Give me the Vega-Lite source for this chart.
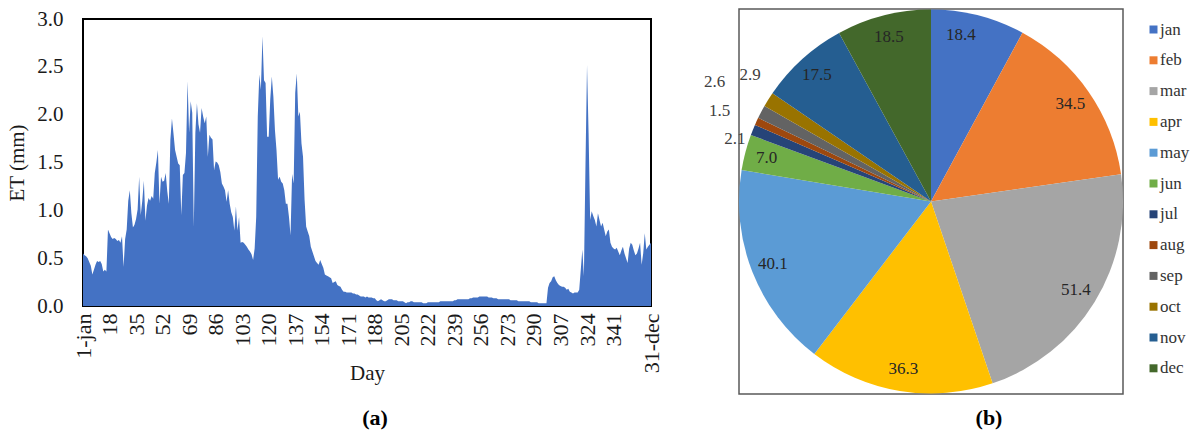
{
  "$schema": "https://vega.github.io/schema/vega-lite/v6.json",
  "background": "white",
  "padding": {"left": 5, "top": 7, "right": 0, "bottom": 0},
  "spacing": 40,
  "config": {
    "font": "Liberation Serif",
    "axis": {"grid": false, "ticks": false, "domain": false, "labelFont": "Liberation Serif", "titleFont": "Liberation Serif", "labelColor": "#1a1a1a", "titleColor": "#1a1a1a", "titleFontWeight": "normal"},
    "legend": {"labelFont": "Liberation Serif", "labelColor": "#333333"},
    "title": {"font": "Liberation Serif", "color": "#000000"}
  },
  "hconcat": [
    {
      "spacing": -3,
      "vconcat": [
        {
          "width": 568,
          "height": 1,
          "view": {"stroke": null},
          "data": {"values": []},
          "mark": "point"
        },
        {
          "width": 568,
          "height": 287,
          "view": {"stroke": "#000000", "strokeWidth": 2},
          "title": {"text": "(a)", "orient": "bottom", "fontSize": 22, "fontWeight": "bold", "offset": 25, "dx": 8},
          "data": {"values": [
            {"day":1,"et":0.55},{"day":2,"et":0.53},{"day":3,"et":0.52},{"day":4,"et":0.50},{"day":5,"et":0.46},{"day":6,"et":0.42},{"day":7,"et":0.33},{"day":8,"et":0.38},{"day":9,"et":0.43},{"day":10,"et":0.47},
            {"day":11,"et":0.46},{"day":12,"et":0.47},{"day":13,"et":0.44},{"day":14,"et":0.36},{"day":15,"et":0.38},{"day":16,"et":0.36},{"day":17,"et":0.80},{"day":18,"et":0.76},{"day":19,"et":0.72},{"day":20,"et":0.70},
            {"day":21,"et":0.71},{"day":22,"et":0.70},{"day":23,"et":0.68},{"day":24,"et":0.69},{"day":25,"et":0.66},{"day":26,"et":0.73},{"day":27,"et":0.41},{"day":28,"et":0.70},{"day":29,"et":0.80},{"day":30,"et":1.10},
            {"day":31,"et":1.21},{"day":32,"et":0.97},{"day":33,"et":0.82},{"day":34,"et":0.85},{"day":35,"et":0.91},{"day":36,"et":1.01},{"day":37,"et":1.35},{"day":38,"et":0.95},{"day":39,"et":1.10},{"day":40,"et":1.31},
            {"day":41,"et":0.89},{"day":42,"et":1.05},{"day":43,"et":1.13},{"day":44,"et":1.10},{"day":45,"et":1.15},{"day":46,"et":1.12},{"day":47,"et":1.39},{"day":48,"et":1.50},{"day":49,"et":1.63},{"day":50,"et":1.07},
            {"day":51,"et":1.35},{"day":52,"et":1.30},{"day":53,"et":1.31},{"day":54,"et":1.39},{"day":55,"et":1.20},{"day":56,"et":1.07},{"day":57,"et":1.74},{"day":58,"et":1.96},{"day":59,"et":1.80},{"day":60,"et":1.63},
            {"day":61,"et":1.56},{"day":62,"et":1.49},{"day":63,"et":1.47},{"day":64,"et":0.95},{"day":65,"et":1.37},{"day":66,"et":1.39},{"day":67,"et":1.60},{"day":68,"et":2.35},{"day":69,"et":1.81},{"day":70,"et":2.14},
            {"day":71,"et":2.02},{"day":72,"et":0.83},{"day":73,"et":1.81},{"day":74,"et":2.12},{"day":75,"et":1.90},{"day":76,"et":1.81},{"day":77,"et":2.07},{"day":78,"et":1.98},{"day":79,"et":1.91},{"day":80,"et":1.98},
            {"day":81,"et":1.56},{"day":82,"et":1.79},{"day":83,"et":1.76},{"day":84,"et":1.74},{"day":85,"et":1.42},{"day":86,"et":1.51},{"day":87,"et":1.50},{"day":88,"et":1.47},{"day":89,"et":1.40},{"day":90,"et":1.28},
            {"day":91,"et":1.25},{"day":92,"et":1.21},{"day":93,"et":1.09},{"day":94,"et":1.21},{"day":95,"et":1.07},{"day":96,"et":0.98},{"day":97,"et":0.93},{"day":98,"et":0.79},{"day":99,"et":1.04},{"day":100,"et":0.79},
            {"day":101,"et":0.93},{"day":102,"et":0.66},{"day":103,"et":0.67},{"day":104,"et":0.66},{"day":105,"et":0.64},{"day":106,"et":0.62},{"day":107,"et":0.59},{"day":108,"et":0.57},{"day":109,"et":0.54},{"day":110,"et":0.48},
            {"day":111,"et":0.60},{"day":112,"et":0.93},{"day":113,"et":1.98},{"day":114,"et":2.42},{"day":115,"et":2.26},{"day":116,"et":2.82},{"day":117,"et":2.36},{"day":118,"et":2.33},{"day":119,"et":1.77},{"day":120,"et":1.77},
            {"day":121,"et":2.16},{"day":122,"et":2.40},{"day":123,"et":2.19},{"day":124,"et":1.84},{"day":125,"et":1.63},{"day":126,"et":1.32},{"day":127,"et":1.35},{"day":128,"et":1.30},{"day":129,"et":1.28},{"day":130,"et":1.21},
            {"day":131,"et":1.07},{"day":132,"et":1.07},{"day":133,"et":0.93},{"day":134,"et":0.74},{"day":135,"et":1.38},{"day":136,"et":1.28},{"day":137,"et":2.23},{"day":138,"et":2.43},{"day":139,"et":1.98},{"day":140,"et":2.03},
            {"day":141,"et":1.70},{"day":142,"et":1.56},{"day":143,"et":1.11},{"day":144,"et":0.83},{"day":145,"et":0.78},{"day":146,"et":0.73},{"day":147,"et":0.62},{"day":148,"et":0.57},{"day":149,"et":0.52},{"day":150,"et":0.47},
            {"day":151,"et":0.45},{"day":152,"et":0.43},{"day":153,"et":0.48},{"day":154,"et":0.44},{"day":155,"et":0.40},{"day":156,"et":0.33},{"day":157,"et":0.32},{"day":158,"et":0.31},{"day":159,"et":0.30},{"day":160,"et":0.29},
            {"day":161,"et":0.24},{"day":162,"et":0.25},{"day":163,"et":0.26},{"day":164,"et":0.22},{"day":165,"et":0.21},{"day":166,"et":0.20},{"day":167,"et":0.17},{"day":168,"et":0.15},{"day":169,"et":0.15},{"day":170,"et":0.14},
            {"day":171,"et":0.14},{"day":172,"et":0.14},{"day":173,"et":0.14},{"day":174,"et":0.13},{"day":175,"et":0.13},{"day":176,"et":0.12},{"day":177,"et":0.12},{"day":178,"et":0.11},{"day":179,"et":0.10},{"day":180,"et":0.10},
            {"day":181,"et":0.10},{"day":182,"et":0.09},{"day":183,"et":0.10},{"day":184,"et":0.09},{"day":185,"et":0.09},{"day":186,"et":0.09},{"day":187,"et":0.08},{"day":188,"et":0.08},{"day":189,"et":0.06},{"day":190,"et":0.05},
            {"day":191,"et":0.06},{"day":192,"et":0.07},{"day":193,"et":0.06},{"day":194,"et":0.05},{"day":195,"et":0.05},{"day":196,"et":0.06},{"day":197,"et":0.07},{"day":198,"et":0.07},{"day":199,"et":0.07},{"day":200,"et":0.06},
            {"day":201,"et":0.06},{"day":202,"et":0.06},{"day":203,"et":0.05},{"day":204,"et":0.05},{"day":205,"et":0.05},{"day":206,"et":0.05},{"day":207,"et":0.04},{"day":208,"et":0.03},{"day":209,"et":0.04},{"day":210,"et":0.04},
            {"day":211,"et":0.05},{"day":212,"et":0.05},{"day":213,"et":0.04},{"day":214,"et":0.04},{"day":215,"et":0.04},{"day":216,"et":0.04},{"day":217,"et":0.04},{"day":218,"et":0.04},{"day":219,"et":0.03},{"day":220,"et":0.03},
            {"day":221,"et":0.03},{"day":222,"et":0.04},{"day":223,"et":0.04},{"day":224,"et":0.04},{"day":225,"et":0.04},{"day":226,"et":0.04},{"day":227,"et":0.04},{"day":228,"et":0.04},{"day":229,"et":0.04},{"day":230,"et":0.05},
            {"day":231,"et":0.05},{"day":232,"et":0.05},{"day":233,"et":0.05},{"day":234,"et":0.05},{"day":235,"et":0.05},{"day":236,"et":0.05},{"day":237,"et":0.05},{"day":238,"et":0.05},{"day":239,"et":0.06},{"day":240,"et":0.06},
            {"day":241,"et":0.07},{"day":242,"et":0.07},{"day":243,"et":0.07},{"day":244,"et":0.07},{"day":245,"et":0.07},{"day":246,"et":0.07},{"day":247,"et":0.07},{"day":248,"et":0.07},{"day":249,"et":0.08},{"day":250,"et":0.08},
            {"day":251,"et":0.09},{"day":252,"et":0.09},{"day":253,"et":0.09},{"day":254,"et":0.09},{"day":255,"et":0.10},{"day":256,"et":0.10},{"day":257,"et":0.10},{"day":258,"et":0.10},{"day":259,"et":0.10},{"day":260,"et":0.10},
            {"day":261,"et":0.09},{"day":262,"et":0.09},{"day":263,"et":0.09},{"day":264,"et":0.08},{"day":265,"et":0.08},{"day":266,"et":0.08},{"day":267,"et":0.07},{"day":268,"et":0.07},{"day":269,"et":0.07},{"day":270,"et":0.07},
            {"day":271,"et":0.07},{"day":272,"et":0.07},{"day":273,"et":0.07},{"day":274,"et":0.07},{"day":275,"et":0.06},{"day":276,"et":0.06},{"day":277,"et":0.06},{"day":278,"et":0.06},{"day":279,"et":0.06},{"day":280,"et":0.05},
            {"day":281,"et":0.05},{"day":282,"et":0.05},{"day":283,"et":0.05},{"day":284,"et":0.05},{"day":285,"et":0.05},{"day":286,"et":0.05},{"day":287,"et":0.05},{"day":288,"et":0.04},{"day":289,"et":0.04},{"day":290,"et":0.04},
            {"day":291,"et":0.04},{"day":292,"et":0.04},{"day":293,"et":0.03},{"day":294,"et":0.03},{"day":295,"et":0.03},{"day":296,"et":0.03},{"day":297,"et":0.03},{"day":298,"et":0.03},{"day":299,"et":0.19},{"day":300,"et":0.24},
            {"day":301,"et":0.26},{"day":302,"et":0.30},{"day":303,"et":0.31},{"day":304,"et":0.27},{"day":305,"et":0.24},{"day":306,"et":0.22},{"day":307,"et":0.21},{"day":308,"et":0.20},{"day":309,"et":0.20},{"day":310,"et":0.19},
            {"day":311,"et":0.17},{"day":312,"et":0.18},{"day":313,"et":0.15},{"day":314,"et":0.14},{"day":315,"et":0.13},{"day":316,"et":0.14},{"day":317,"et":0.14},{"day":318,"et":0.14},{"day":319,"et":0.17},{"day":320,"et":0.38},
            {"day":321,"et":0.59},{"day":322,"et":0.31},{"day":323,"et":1.46},{"day":324,"et":2.52},{"day":325,"et":1.81},{"day":326,"et":0.90},{"day":327,"et":0.99},{"day":328,"et":0.94},{"day":329,"et":0.90},{"day":330,"et":0.83},
            {"day":331,"et":0.97},{"day":332,"et":0.90},{"day":333,"et":0.83},{"day":334,"et":0.87},{"day":335,"et":0.80},{"day":336,"et":0.73},{"day":337,"et":0.78},{"day":338,"et":0.80},{"day":339,"et":0.66},{"day":340,"et":0.62},
            {"day":341,"et":0.60},{"day":342,"et":0.59},{"day":343,"et":0.61},{"day":344,"et":0.57},{"day":345,"et":0.53},{"day":346,"et":0.58},{"day":347,"et":0.62},{"day":348,"et":0.55},{"day":349,"et":0.50},{"day":350,"et":0.45},
            {"day":351,"et":0.60},{"day":352,"et":0.66},{"day":353,"et":0.64},{"day":354,"et":0.58},{"day":355,"et":0.53},{"day":356,"et":0.55},{"day":357,"et":0.60},{"day":358,"et":0.66},{"day":359,"et":0.43},{"day":360,"et":0.55},
            {"day":361,"et":0.76},{"day":362,"et":0.59},{"day":363,"et":0.62},{"day":364,"et":0.64},{"day":365,"et":0.66}
          ]},
          "mark": {"type": "area", "color": "#4472C4", "interpolate": "linear"},
          "encoding": {
            "x": {
              "field": "day", "type": "quantitative",
              "scale": {"domain": [1, 365], "nice": false, "zero": false},
              "axis": {
                "values": [1, 18, 35, 52, 69, 86, 103, 120, 137, 154, 171, 188, 205, 222, 239, 256, 273, 290, 307, 324, 341, 365],
                "labelExpr": "datum.value == 1 ? '1-jan' : (datum.value == 365 ? '31-dec' : datum.label)",
                "labelAngle": -90, "labelFontSize": 22, "labelPadding": 7, "labelOverlap": false, "labelFlush": false,
                "title": "Day", "titleFontSize": 21, "titleY": 56, "titleBaseline": "top"
              }
            },
            "y": {
              "field": "et", "type": "quantitative",
              "scale": {"domain": [0, 3], "nice": false},
              "axis": {
                "values": [0, 0.5, 1, 1.5, 2, 2.5, 3], "format": ".1f",
                "labelFontSize": 21, "labelPadding": 20,
                "title": "ET (mm)", "titleFontSize": 21, "titlePadding": 9
              }
            }
          }
        }
      ]
    },
    {
      "width": 384,
      "height": 385,
      "view": {"stroke": "#595959", "strokeWidth": 1.5},
      "title": {"text": "(b)", "orient": "bottom", "fontSize": 22, "fontWeight": "bold", "offset": 14, "anchor": "middle", "dx": 58},
      "data": {"values": [
        {"month": "jan", "m": 1, "et": 18.4},
        {"month": "feb", "m": 2, "et": 34.5},
        {"month": "mar", "m": 3, "et": 51.4},
        {"month": "apr", "m": 4, "et": 36.3},
        {"month": "may", "m": 5, "et": 40.1},
        {"month": "jun", "m": 6, "et": 7.0},
        {"month": "jul", "m": 7, "et": 2.1},
        {"month": "aug", "m": 8, "et": 1.5},
        {"month": "sep", "m": 9, "et": 2.6},
        {"month": "oct", "m": 10, "et": 2.9},
        {"month": "nov", "m": 11, "et": 17.5},
        {"month": "dec", "m": 12, "et": 18.5}
      ]},
      "encoding": {
        "theta": {"field": "et", "type": "quantitative", "stack": true},
        "order": {"field": "m", "type": "quantitative"}
      },
      "layer": [
        {
          "mark": {"type": "arc", "outerRadius": 192},
          "encoding": {
            "color": {
              "field": "month", "type": "nominal",
              "scale": {
                "domain": ["jan", "feb", "mar", "apr", "may", "jun", "jul", "aug", "sep", "oct", "nov", "dec"],
                "range": ["#4472C4", "#ED7D31", "#A5A5A5", "#FFC000", "#5B9BD5", "#70AD47", "#264478", "#9E480E", "#636363", "#997300", "#255E91", "#43682B"]
              },
              "legend": {"title": null, "orient": "right", "offset": 9, "padding": 12, "symbolType": "square", "symbolSize": 64, "symbolStrokeWidth": 0, "labelFontSize": 17, "rowPadding": 12.8, "labelOffset": -2}
            }
          }
        },
        {
          "mark": {"type": "text", "radius": 170, "fontSize": 17, "color": "#262626"},
          "encoding": {"text": {"condition": {"test": "datum.et >= 5 && datum.month != 'jan'", "field": "et", "type": "quantitative", "format": ".1f"}, "value": ""}}
        },
        {
          "mark": {"type": "text", "radius": 170, "dx": -12, "dy": -2, "fontSize": 17, "color": "#262626"},
          "encoding": {"text": {"condition": {"test": "datum.month == 'jan'", "field": "et", "type": "quantitative", "format": ".1f"}, "value": ""}}
        },
        {
          "mark": {"type": "text", "radius": 40, "dx": -159, "dy": -48, "fontSize": 17, "color": "#404040"},
          "encoding": {"text": {"condition": {"test": "datum.month == 'jul'", "field": "et", "type": "quantitative", "format": ".1f"}, "value": ""}}
        },
        {
          "mark": {"type": "text", "radius": 40, "dx": -175, "dy": -74, "fontSize": 17, "color": "#404040"},
          "encoding": {"text": {"condition": {"test": "datum.month == 'aug'", "field": "et", "type": "quantitative", "format": ".1f"}, "value": ""}}
        },
        {
          "mark": {"type": "text", "radius": 40, "dx": -181, "dy": -101, "fontSize": 17, "color": "#404040"},
          "encoding": {"text": {"condition": {"test": "datum.month == 'sep'", "field": "et", "type": "quantitative", "format": ".1f"}, "value": ""}}
        },
        {
          "mark": {"type": "text", "radius": 40, "dx": -147, "dy": -105, "fontSize": 17, "color": "#404040"},
          "encoding": {"text": {"condition": {"test": "datum.month == 'oct'", "field": "et", "type": "quantitative", "format": ".1f"}, "value": ""}}
        }
      ]
    }
  ]
}
